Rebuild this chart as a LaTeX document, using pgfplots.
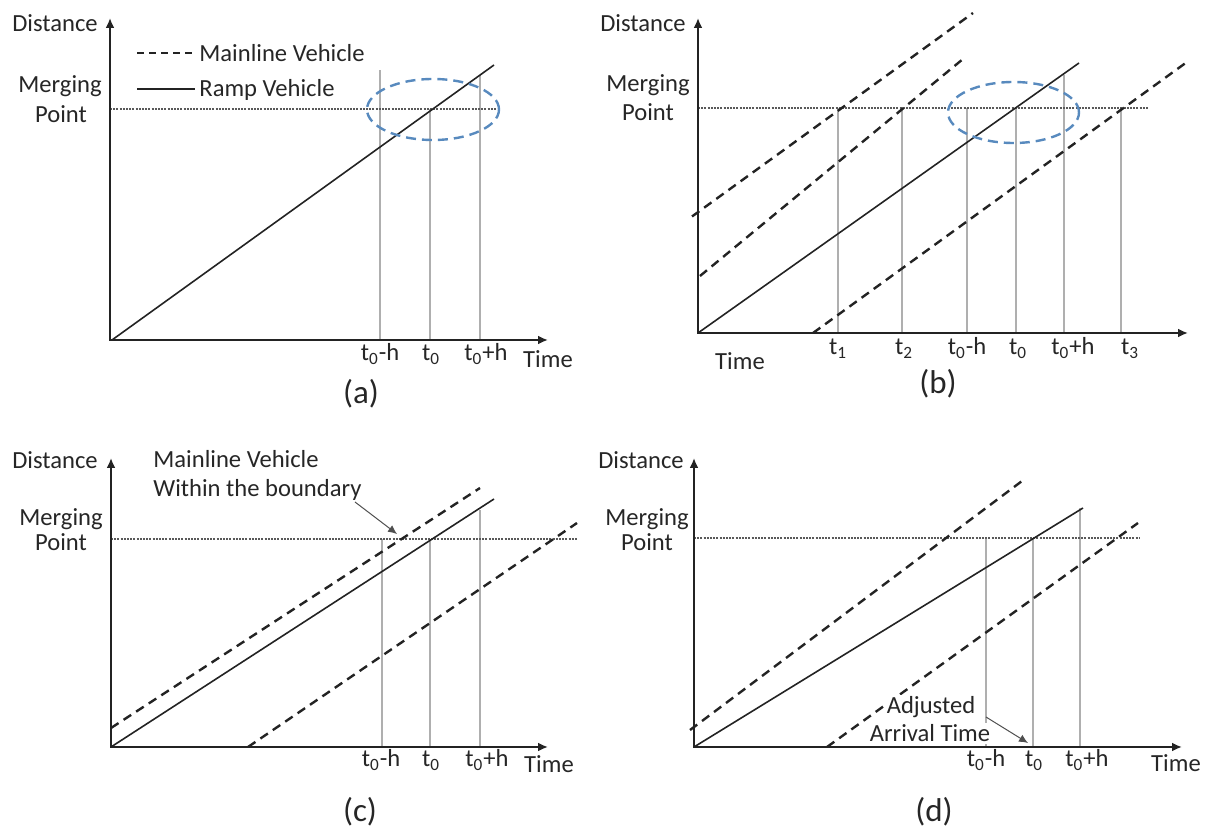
\documentclass[border=0pt]{standalone}
\usepackage{fontspec}
\setmainfont{Carlito}
\usepackage{pgfplots}
\pgfplotsset{compat=1.18}
\usetikzlibrary{arrows.meta}
\definecolor{ell}{RGB}{88,138,190}
\definecolor{ln}{RGB}{35,35,35}
\definecolor{vg}{RGB}{175,175,175}
\tikzset{
 axarr/.style={draw=ln, line width=1.25pt, -{Latex[length=5pt,width=4.5pt]}},
 ramp/.style={draw=ln, line width=0.8pt},
 mainv/.style={draw=ln, line width=1.2pt, dash pattern=on 4.5pt off 3pt},
 vl/.style={draw=vg, line width=0.7pt},
 mp/.style={draw=gray!70!black, line width=0.55pt, dash pattern=on 1pt off 0.6pt},
 ellp/.style={draw=ell, line width=1.2pt, dash pattern=on 5pt off 3pt},
 lbl/.style={font=\fontsize{12.3}{14}\selectfont, inner sep=0pt, text=black!85},
 pcap/.style={font=\fontsize{16.5}{18}\selectfont, inner sep=0pt, text=black!85},
 annarr/.style={draw=ln!80, line width=0.5pt, -{Latex[length=4.5pt,width=4pt]}},
}
\begin{document}
\begin{tikzpicture}
\begin{axis}[
  scale only axis, width=603pt, height=416.5pt,
  xmin=0, xmax=1206, ymin=0, ymax=833, y dir=reverse,
  hide axis, clip=false, no markers]
\path (rel axis cs:0,0) rectangle (rel axis cs:1,1);
% ================= (a) =================
\addplot[vl] coordinates {(380,340) (380,70)};
\addplot[vl] coordinates {(430,340) (430,109)};
\addplot[vl] coordinates {(480,340) (480,75)};
\addplot[mp] coordinates {(110,109) (497,109)};
\addplot[ramp] coordinates {(112,340) (494,65)};
\addplot[axarr] coordinates {(110,341) (110,18)};
\addplot[axarr] coordinates {(109,340) (548,340)};
\draw[ellp] (axis cs:433,109.5) ellipse [x radius=33pt, y radius=15.25pt];
\addplot[draw=ln, line width=1pt, dash pattern=on 3.5pt off 2.5pt] coordinates {(137,53) (195,53)};
\addplot[draw=ln, line width=0.8pt] coordinates {(137,89) (195,89)};
\node[lbl, anchor=base west] at (axis cs:199,62) {Mainline Vehicle};
\node[lbl, anchor=base west] at (axis cs:199,97) {Ramp Vehicle};
\node[lbl, anchor=base] at (axis cs:55,32) {Distance};
\node[lbl, anchor=base] at (axis cs:60,93) {Merging};
\node[lbl, anchor=base] at (axis cs:61,123) {Point};
\node[lbl, anchor=base] at (axis cs:380,361) {t\textsubscript{0}-h};
\node[lbl, anchor=base] at (axis cs:431,361) {t\textsubscript{0}};
\node[lbl, anchor=base] at (axis cs:486,361) {t\textsubscript{0}+h};
\node[lbl, anchor=base] at (axis cs:548,368) {Time};
\node[pcap] at (axis cs:361,394) {(a)};
% ================= (b) =================
\addplot[vl] coordinates {(838,333) (838,108)};
\addplot[vl] coordinates {(902,333) (902,108)};
\addplot[vl] coordinates {(967,333) (967,108)};
\addplot[vl] coordinates {(1016,333) (1016,108)};
\addplot[vl] coordinates {(1064,333) (1064,75)};
\addplot[vl] coordinates {(1121,333) (1121,108)};
\addplot[mp] coordinates {(698,108) (1148,108)};
\addplot[mainv] coordinates {(692,216.5) (973,13)};
\addplot[mainv] coordinates {(700,276) (963,59)};
\addplot[ramp] coordinates {(698,333) (1079,63)};
\addplot[mainv] coordinates {(813,333) (1187,62)};
\addplot[axarr] coordinates {(698,334) (698,18)};
\addplot[axarr] coordinates {(697,333) (1188,333)};
\draw[ellp] (axis cs:1013.5,112.5) ellipse [x radius=32.75pt, y radius=15.25pt];
\node[lbl, anchor=base] at (axis cs:643,32) {Distance};
\node[lbl, anchor=base] at (axis cs:648,92) {Merging};
\node[lbl, anchor=base] at (axis cs:648,121) {Point};
\node[lbl, anchor=base] at (axis cs:740,370) {Time};
\node[lbl, anchor=base] at (axis cs:838,355) {t\textsubscript{1}};
\node[lbl, anchor=base] at (axis cs:904,355) {t\textsubscript{2}};
\node[lbl, anchor=base] at (axis cs:967,355) {t\textsubscript{0}-h};
\node[lbl, anchor=base] at (axis cs:1018,355) {t\textsubscript{0}};
\node[lbl, anchor=base] at (axis cs:1073,355) {t\textsubscript{0}+h};
\node[lbl, anchor=base] at (axis cs:1130,355) {t\textsubscript{3}};
\node[pcap] at (axis cs:938,384) {(b)};
% ================= (c) =================
\addplot[vl] coordinates {(382,747) (382,539)};
\addplot[vl] coordinates {(430,747) (430,539)};
\addplot[vl] coordinates {(480,747) (480,510)};
\addplot[mp] coordinates {(111,539) (578,539)};
\addplot[mainv] coordinates {(111,728) (480,488)};
\addplot[ramp] coordinates {(111,747) (494,499)};
\addplot[mainv] coordinates {(248,747) (577,523)};
\addplot[axarr] coordinates {(111,748) (111,458)};
\addplot[axarr] coordinates {(110,747) (548,747)};
\addplot[annarr] coordinates {(355,502) (397,534)};
\node[lbl, anchor=base west] at (axis cs:153,468) {Mainline Vehicle};
\node[lbl, anchor=base west] at (axis cs:153,497) {Within the boundary};
\node[lbl, anchor=base] at (axis cs:55,469) {Distance};
\node[lbl, anchor=base] at (axis cs:61,526) {Merging};
\node[lbl, anchor=base] at (axis cs:61,551) {Point};
\node[lbl, anchor=base] at (axis cs:381,767) {t\textsubscript{0}-h};
\node[lbl, anchor=base] at (axis cs:431,767) {t\textsubscript{0}};
\node[lbl, anchor=base] at (axis cs:487,767) {t\textsubscript{0}+h};
\node[lbl, anchor=base] at (axis cs:549,773) {Time};
\node[pcap] at (axis cs:360,812) {(c)};
% ================= (d) =================
\addplot[vl] coordinates {(986,747) (986,538)};
\addplot[vl] coordinates {(1033,747) (1033,538)};
\addplot[vl] coordinates {(1080,747) (1080,508)};
\addplot[mp] coordinates {(694,538) (1140,538)};
\addplot[mainv] coordinates {(690,730) (1026,478)};
\addplot[ramp] coordinates {(694,747) (1083,508)};
\addplot[mainv] coordinates {(827,747) (1138,523)};
\node[lbl, anchor=base, fill=white, inner sep=1pt] at (axis cs:931,714) {Adjusted};
\node[lbl, anchor=base, fill=white, inner sep=1pt] at (axis cs:930,742) {Arrival Time};
\addplot[axarr] coordinates {(694,748) (694,458)};
\addplot[axarr] coordinates {(693,747) (1182,747)};
\addplot[annarr] coordinates {(986,717) (1028,743)};
\node[lbl, anchor=base] at (axis cs:641,469) {Distance};
\node[lbl, anchor=base] at (axis cs:647,526) {Merging};
\node[lbl, anchor=base] at (axis cs:647,551) {Point};
\node[lbl, anchor=base] at (axis cs:986,767) {t\textsubscript{0}-h};
\node[lbl, anchor=base] at (axis cs:1034,767) {t\textsubscript{0}};
\node[lbl, anchor=base] at (axis cs:1087,767) {t\textsubscript{0}+h};
\node[lbl, anchor=base] at (axis cs:1176,772) {Time};
\node[pcap] at (axis cs:934,812) {(d)};
\end{axis}
\end{tikzpicture}
\end{document}
